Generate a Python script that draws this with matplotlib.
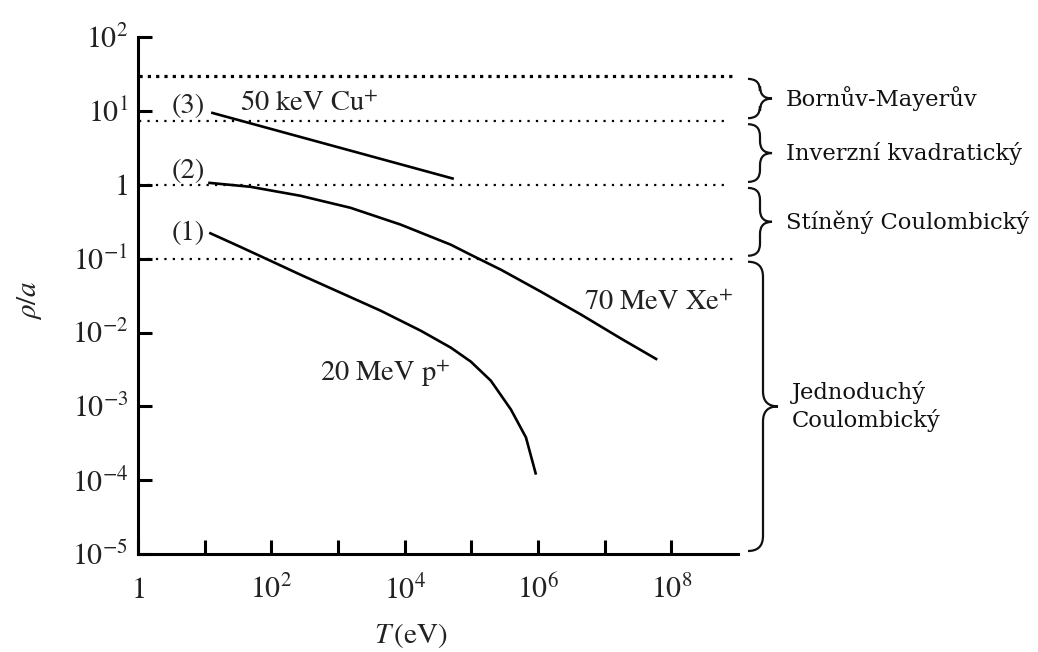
import matplotlib.pyplot as plt
from matplotlib.path import Path
from matplotlib.patches import PathPatch
from matplotlib.ticker import NullLocator

plt.rcParams['mathtext.fontset'] = 'stix'
plt.rcParams['font.family'] = 'STIXGeneral'

# (1) 20 MeV p+
t_p = [11.7, 34.2, 96.7, 273, 1091, 4355, 1.74e4, 4.92e4, 9.82e4, 1.96e5,
       3.93e5, 6.6e5, 9.33e5]
r_p = [0.225, 0.145, 0.094, 0.0608, 0.0347, 0.0198, 0.0106, 0.00625, 0.00404,
       0.00223, 9.05e-4, 3.79e-4, 1.19e-4]

# (2) 70 MeV Xe+
t_xe = [11.3, 48.3, 273, 1541, 8710, 4.92e4, 9.82e4, 2.78e5, 1.11e6, 4.43e6,
        1.77e7, 6.15e7]
r_xe = [1.07, 0.944, 0.713, 0.49, 0.29, 0.155, 0.113, 0.071, 0.0357, 0.0175,
        0.00826, 0.0043]

# (3) 50 keV Cu+
t_cu = [12.5, 5.46e4]
r_cu = [9.55, 1.21]

# boundaries between the potential regimes (rho/a)
bounds = [30, 7.3, 1, 0.1, 1e-5]
bound_ends = [8.5e8, 7.7e8, 7.7e8, 8.5e8]
regimes = ["Bornův-Mayerův", "Inverzní kvadratický", "Stíněný Coulombický",
           "Jednoduchý\nCoulombický"]

x_ticks = [1, 1e1, 1e2, 1e3, 1e4, 1e5, 1e6, 1e7, 1e8]
x_labels = ['$1$', '', '$10^{2}$', '', '$10^{4}$', '', '$10^{6}$', '', '$10^{8}$']
y_ticks = [1e-5, 1e-4, 1e-3, 1e-2, 1e-1, 1, 1e1, 1e2]
y_labels = ['$10^{-5}$', '$10^{-4}$', '$10^{-3}$', '$10^{-2}$', '$10^{-1}$',
            '$1$', '$10^{1}$', '$10^{2}$']

W, H = 1038, 652
fig = plt.figure(figsize=(W / 100, H / 100), dpi=100)
ax = fig.add_axes([138 / W, 1 - 554 / H, 600 / W, (554 - 37.3) / H])
ax.set_xscale('log')
ax.set_yscale('log')
ax.set_xlim(1, 1e9)
ax.set_ylim(1e-5, 1e2)

for s in ['top', 'right']:
    ax.spines[s].set_visible(False)
for s in ['left', 'bottom']:
    ax.spines[s].set_linewidth(2.2)

ax.set_xticks(x_ticks, x_labels)
ax.set_yticks(y_ticks, y_labels)
ax.xaxis.set_minor_locator(NullLocator())
ax.yaxis.set_minor_locator(NullLocator())
ax.tick_params(direction='in', length=10, width=2.2, labelsize=21.5,
               labelcolor='#222222')
ax.tick_params(axis='x', pad=32)
ax.tick_params(axis='y', pad=7)
for lab in ax.get_xticklabels():
    lab.set_va('baseline')

# regime boundaries
for i, b in enumerate(bounds[:-1]):
    if i == 0:
        ax.hlines(b, 1.05, bound_ends[i], colors='black', lw=2.3,
                  linestyles=(0, (1, 1.6)))
    else:
        ax.hlines(b, 1.05, bound_ends[i], colors='black', lw=1.6,
                  linestyles=(0, (1, 2.8)))

for t, r in [(t_p, r_p), (t_xe, r_xe), (t_cu, r_cu)]:
    ax.plot(t, r, color='black', lw=1.9, solid_capstyle='butt',
            solid_joinstyle='round')

txt = dict(fontsize=20.5, color='#222222')
ax.text(10.2, 9.4, '(3)', ha='right', va='baseline', **txt)
ax.text(10.2, 1.25, '(2)', ha='right', va='baseline', **txt)
ax.text(10.2, 0.18, '(1)', ha='right', va='baseline', **txt)
ax.text(34, 10, r'50 keV Cu$^{+}$', ha='left', va='baseline', **txt)
ax.text(4.9e6, 0.02, r'70 MeV Xe$^{+}$', ha='left', va='baseline', **txt)
ax.text(545, 0.0022, r'20 MeV p$^{+}$', ha='left', va='baseline', **txt)

fig.text(30 / W, 1 - 300 / H, r'$\rho/a$', rotation=90, ha='center', va='center',
         fontsize=21, color='#222222')
fig.text(411 / W, 1 - 636 / H, r'$T\,$(eV)', ha='center', va='center',
         fontsize=21, color='#222222')


def draw_brace(y_top, y_bot, x0, r, label):
    _, yt = ax.transData.transform((1, y_top))
    _, yb = ax.transData.transform((1, y_bot))
    yt -= 3
    yb += 3
    ym = (yt + yb) / 2
    verts = [(x0, yt), (x0 + r, yt), (x0 + r, yt - r),
             (x0 + r, ym + r),
             (x0 + r, ym), (x0 + 2 * r, ym),
             (x0 + r, ym), (x0 + r, ym - r),
             (x0 + r, yb + r),
             (x0 + r, yb), (x0, yb)]
    codes = [Path.MOVETO, Path.CURVE3, Path.CURVE3, Path.LINETO,
             Path.CURVE3, Path.CURVE3, Path.CURVE3, Path.CURVE3,
             Path.LINETO, Path.CURVE3, Path.CURVE3]
    verts = fig.transFigure.inverted().transform(verts)
    fig.add_artist(PathPatch(Path(verts, codes), transform=fig.transFigure,
                             fill=False, lw=1.6, edgecolor='#111111'))
    fig.text((x0 + 2 * r + 14) / W, ym / H, label, ha='left', va='center',
             fontsize=16.3, family='DejaVu Serif', color='#111111', linespacing=1.3)


for i, name in enumerate(regimes):
    r = 15 if i == 3 else 12
    draw_brace(bounds[i], bounds[i + 1], 748, r, name)

fig.savefig('out.png', dpi=100)
